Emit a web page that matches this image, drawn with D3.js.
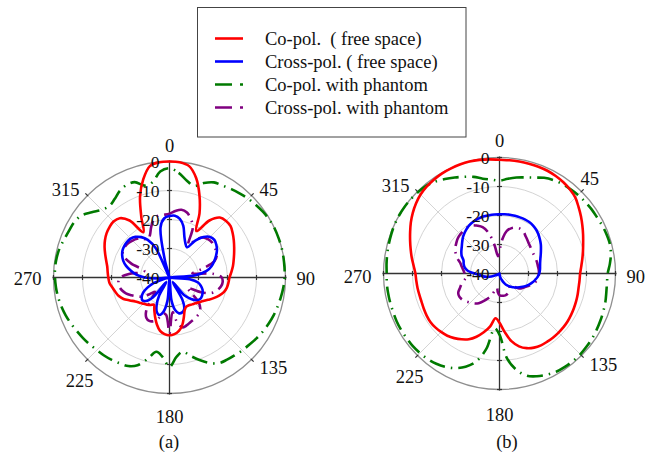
<!DOCTYPE html>
<html><head><meta charset="utf-8">
<script src="https://cdn.jsdelivr.net/npm/d3@7"></script>
<style>
body{margin:0;background:#fff}
svg{display:block}
</style>
</head><body>
<svg id="chart" width="659" height="454" font-family="'Liberation Serif', 'Times New Roman', Tinos, 'DejaVu Serif', serif"></svg>
<script>
// ---------- data ----------
const angles = [0,5,10,15,20,25,30,35,40,45,50,55,60,65,70,75,80,85,90,95,100,105,110,115,120,125,130,135,140,145,150,155,160,165,170,175,180,185,190,195,200,205,210,215,220,225,230,235,240,245,250,255,260,265,270,275,280,285,290,295,300,305,310,315,320,325,330,335,340,345,350,355];
const radialTicks = [0,-10,-20,-30,-40];
const angleTicks = [0,45,90,135,180,225,270,315];
const seriesNames = ["Co-pol.  ( free space)","Cross-pol. ( free space)","Co-pol. with phantom","Cross-pol. with phantom"];
const panelNames = ["(a)","(b)"];

// panel (a)
const coFreeA = [0,-0.1,-1,-4.5,-9.8,-15.5,-21.5,-16,-13,-12.4,-12.5,-13.4,-14.4,-15.4,-16.3,-17.1,-17.8,-18.6,-19.3,-19.6,-19.9,-20.6,-21.8,-23.2,-24.6,-25.8,-26.7,-27.4,-27.9,-28.3,-28.4,-27.6,-25.5,-23,-21.3,-20.4,-20.1,-20.4,-21.3,-23.2,-25.5,-27.6,-29.2,-28.4,-27.8,-27.2,-26.5,-25.6,-24.2,-22.5,-21.4,-20.7,-20,-19.2,-18.9,-18.6,-18.2,-17.4,-16.4,-15.3,-14.3,-13.5,-13,-12.7,-13.3,-16,-22,-17,-10.3,-5,-1,-0.1];
const crossFreeA = [-18.8,-18.6,-19.5,-21.6,-25,-27,-28,-24.5,-21.8,-20.2,-19.8,-20.3,-21.1,-22.3,-23.6,-25,-27,-31,-40,-33,-30,-28.8,-27.9,-27.4,-27.1,-27.1,-27.8,-29.5,-32,-38,-31,-28,-27.2,-27.2,-28.5,-32,-40,-32,-28,-26.6,-27.3,-29.5,-33,-38,-31,-28.5,-27.8,-28.3,-29.5,-31.5,-34,-38,-40,-36,-31.5,-28.5,-26.5,-24.5,-23,-22,-21.3,-21,-20.9,-21,-21.7,-23,-25,-29,-40,-34,-22.3,-19.5];
const coPhantomA = [-2.3,-3.8,-6,-7.3,-5.3,-3.8,-3.4,-2.8,-2.2,-1.6,-1.1,-0.6,-0.2,0,0,0,-0.1,-0.2,-0.3,-0.6,-1,-1.4,-1.8,-2.3,-2.8,-3.4,-4,-4.5,-5,-5.4,-5.9,-7.5,-9.7,-12,-14,-12.5,-9.2,-12.5,-14,-11,-7.8,-6.3,-5.8,-5.3,-4.9,-4.6,-4.1,-3.6,-3.1,-2.5,-1.9,-1.4,-1,-0.7,-0.5,-0.4,-0.5,-0.8,-1.4,-1.8,-2,-2.8,-5,-7,-7.8,-7,-5.6,-4.8,-5,-7.2,-6.6,-3.3];
const crossPhantomA = [-18,-17,-16.3,-16.8,-18.5,-21,-27,-24,-22,-21.3,-21,-21.2,-21.5,-22,-23.5,-28,-32,-25,-22,-21.6,-22,-23,-24.5,-28,-33,-31,-27,-25,-24,-23.6,-23.3,-23,-22.5,-22.2,-24,-28,-20.7,-27,-27.5,-25.5,-24,-23.5,-24,-26,-30,-33,-31,-28.5,-27,-25.5,-24,-23,-22.4,-22.3,-23,-26,-30,-31,-26,-22.5,-21.4,-21.3,-21.5,-22,-22.6,-23.5,-25,-24,-21.5,-19.2,-18.3,-18.3];

// panel (b)
const coFreeB = [-0.8,-0.8,-0.8,-0.8,-0.8,-0.9,-1.2,-1.6,-2.2,-3,-4.4,-5.7,-7,-8.2,-9.3,-10.2,-11,-11.7,-12.2,-12.3,-12.3,-12.1,-11.9,-11.7,-11.5,-11.3,-11.2,-11.2,-11.2,-11.3,-11.4,-11.8,-12.6,-14,-16.3,-19.8,-23,-24.5,-21.5,-19,-16.8,-15,-13.8,-12.8,-12,-11.5,-11.1,-10.9,-11,-11.2,-11.4,-11.4,-11.3,-11.2,-11,-10.3,-9.3,-8.3,-7.2,-6,-4.7,-3.5,-2.4,-1.5,-0.9,-0.5,-0.2,-0.1,0,0,-0.2,-0.5];
const crossFreeB = [-19.6,-19.5,-19.4,-19.4,-19.4,-19.4,-19.5,-19.8,-20.3,-21,-21.8,-22.6,-23.5,-24.3,-25,-25.5,-25.8,-26,-26.3,-26.8,-27.5,-28.2,-29,-29.9,-30.8,-31.7,-32.5,-33.3,-34,-34.8,-35.5,-36.5,-37.5,-38.3,-39,-39.5,-40,-40,-40,-40,-40,-40,-40,-40,-40,-40,-40,-40,-39.5,-38.5,-37,-35.5,-34.3,-33.3,-31.5,-29,-27.8,-27.2,-26.8,-25.6,-24.8,-24.1,-23.2,-22.2,-21.4,-20.7,-20.2,-19.9,-19.7,-19.6,-19.6,-19.6];
const coPhantomB = [-8,-7.2,-6.4,-5.7,-4.8,-3.6,-2.8,-2.3,-2,-1.7,-1.5,-1.3,-1.2,-0.9,-0.7,-0.6,-1,-1.8,-2.7,-2.8,-2.6,-2.2,-1.9,-1.6,-1.3,-1,-0.8,-0.6,-0.6,-0.7,-0.9,-1.5,-2.3,-3.5,-6.2,-10.7,-18.9,-21,-13.5,-8.5,-5.8,-4,-2.8,-2,-1.5,-1.2,-1,-1,-0.9,-0.9,-1,-1,-1,-1,-1.1,-0.9,-0.7,-0.5,-0.3,-0.1,0,0,-0.1,-0.3,-0.6,-1.3,-2.4,-3.5,-4.5,-5.5,-6.8,-7.5];
const crossPhantomB = [-32,-28,-25,-23.8,-23.2,-23,-23.4,-24.3,-25,-25.6,-26,-26.3,-26.5,-26.5,-26.5,-26.5,-26.5,-26.4,-26.4,-26.5,-26.8,-27.5,-28.5,-29.5,-30.3,-31,-32.5,-34,-34.5,-34,-33.3,-32.8,-32.4,-32.2,-32.2,-32.3,-32.5,-33.5,-35,-34,-32,-30.5,-29,-27.5,-26.5,-25.8,-25,-24.3,-24,-24.3,-25.5,-26.5,-27.8,-28.5,-28,-27.5,-26.8,-26,-24.5,-23.3,-22.4,-21.8,-21.2,-20.9,-20.7,-20.6,-20.8,-21.8,-23,-25.5,-30,-34];

// ---------- drawing ----------
const FONT = "'Liberation Serif', 'Times New Roman', Tinos, 'DejaVu Serif', serif";
const svg = d3.select("#chart");
svg.append("rect").attr("width",659).attr("height",454).attr("fill","#fff");

const colors = ["#ff0000","#0000ff","#007a00","#800080"];
const dashes = [null,null,"16,6,1.5,6","16,6,1.5,6"];

const panels = [
  {cx:169.5, cy:277.5, series:[coFreeA,crossFreeA,coPhantomA,crossPhantomA], name:panelNames[0], nameX:169,
   lab:{0:[0,-132,"middle"],45:[90,-88,"start"],90:[127,1,"start"],135:[90,90,"start"],180:[0,139,"middle"],225:[-76,103,"end"],270:[-128,1,"end"],315:[-90,-88,"end"]}},
  {cx:499.5, cy:273.5, series:[coFreeB,crossFreeB,coPhantomB,crossPhantomB], name:panelNames[1], nameX:507,
   lab:{0:[0,-133,"middle"],45:[81,-95,"start"],90:[127,3,"start"],135:[90,91,"start"],180:[0,141,"middle"],225:[-76,103,"end"],270:[-128,3,"end"],315:[-90,-88,"end"]}}
];
const R = 116;
const rScale = d3.scaleLinear().domain([-40,0]).range([0,R]).clamp(true);
const rad = a => a*Math.PI/180;

panels.forEach(p => {
  const g = svg.append("g").attr("transform",`translate(${p.cx},${p.cy})`);
  radialTicks.filter(v => v>-40 && v<0).forEach(v => {
    g.append("circle").attr("r", rScale(v)).attr("fill","none").attr("stroke","#d4d4d4").attr("stroke-width",1);
  });
  g.append("circle").attr("r", rScale(0)).attr("fill","none").attr("stroke","#8f8f8f").attr("stroke-width",1.3);
  angleTicks.filter(a => a%90 !== 0).forEach(a => {
    const s = Math.sin(rad(a)), c = -Math.cos(rad(a));
    g.append("line").attr("x1",0).attr("y1",0).attr("x2",s*R).attr("y2",c*R)
      .attr("stroke","#d4d4d4").attr("stroke-width",1);
    g.append("line").attr("x1",s*(R-1)).attr("y1",c*(R-1)).attr("x2",s*(R+3)).attr("y2",c*(R+3))
      .attr("stroke","#333").attr("stroke-width",1.2);
  });
  g.append("line").attr("x1",-R-1).attr("x2",R+1).attr("y1",0).attr("y2",0).attr("stroke","#333").attr("stroke-width",1.3);
  g.append("line").attr("y1",-R-1).attr("y2",R+1).attr("x1",0).attr("x2",0).attr("stroke","#333").attr("stroke-width",1.3);
  radialTicks.filter(v => v>-40).forEach(v => {
    const r = rScale(v);
    [r,-r].forEach(x => g.append("line").attr("x1",x).attr("x2",x).attr("y1",-2.5).attr("y2",2.5).attr("stroke","#333").attr("stroke-width",1.2));
    [r,-r].forEach(y => g.append("line").attr("y1",y).attr("y2",y).attr("x1",-2.5).attr("x2",2.5).attr("stroke","#333").attr("stroke-width",1.2));
  });

  const line = d3.lineRadial()
    .angle(d => rad(d[0]))
    .radius(d => rScale(d[1]))
    .curve(d3.curveCatmullRomClosed.alpha(0.5));
  [2,3,1,0].forEach(i => {
    const data = angles.map((a,k) => [a, p.series[i][k]]);
    g.append("path").attr("d", line(data)).attr("fill","none")
      .attr("stroke", colors[i]).attr("stroke-width",2.6)
      .attr("stroke-dasharray", dashes[i]).attr("stroke-linejoin","round");
  });

  radialTicks.forEach(v => {
    g.append("text").attr("x",-10).attr("y",-rScale(v)+6).attr("text-anchor","end")
      .attr("font-family",FONT).attr("font-size",17.5).attr("fill","#111").text(v);
  });
  angleTicks.forEach(a => {
    const [dx,dy,anc] = p.lab[a];
    g.append("text").attr("x",dx).attr("y",dy+6).attr("text-anchor",anc)
      .attr("font-family",FONT).attr("font-size",18.5).attr("fill","#111").text(a);
  });
  svg.append("text").attr("x",p.nameX).attr("y",448).attr("text-anchor","middle")
    .attr("font-family",FONT).attr("font-size",18.5).attr("fill","#111").text(p.name);
});

const lg = svg.append("g");
lg.append("rect").attr("x",197.5).attr("y",7.5).attr("width",268.5).attr("height",129.5)
  .attr("fill","#fff").attr("stroke","#444").attr("stroke-width",1);
const legY = d3.scalePoint().domain(seriesNames).range([38.5,107.5]);
seriesNames.forEach((n,i) => {
  const y = legY(n);
  lg.append("line").attr("x1",215).attr("x2",243).attr("y1",y).attr("y2",y)
    .attr("stroke",colors[i]).attr("stroke-width",2.6)
    .attr("stroke-dasharray", dashes[i] ? "17,8,3,8" : null);
  lg.append("text").attr("x",265).attr("y",y+6).attr("font-size",18.5)
    .attr("font-family",FONT).attr("fill","#111")
    .attr("xml:space","preserve").style("white-space","pre").text(n);
});
</script>
</body></html>
